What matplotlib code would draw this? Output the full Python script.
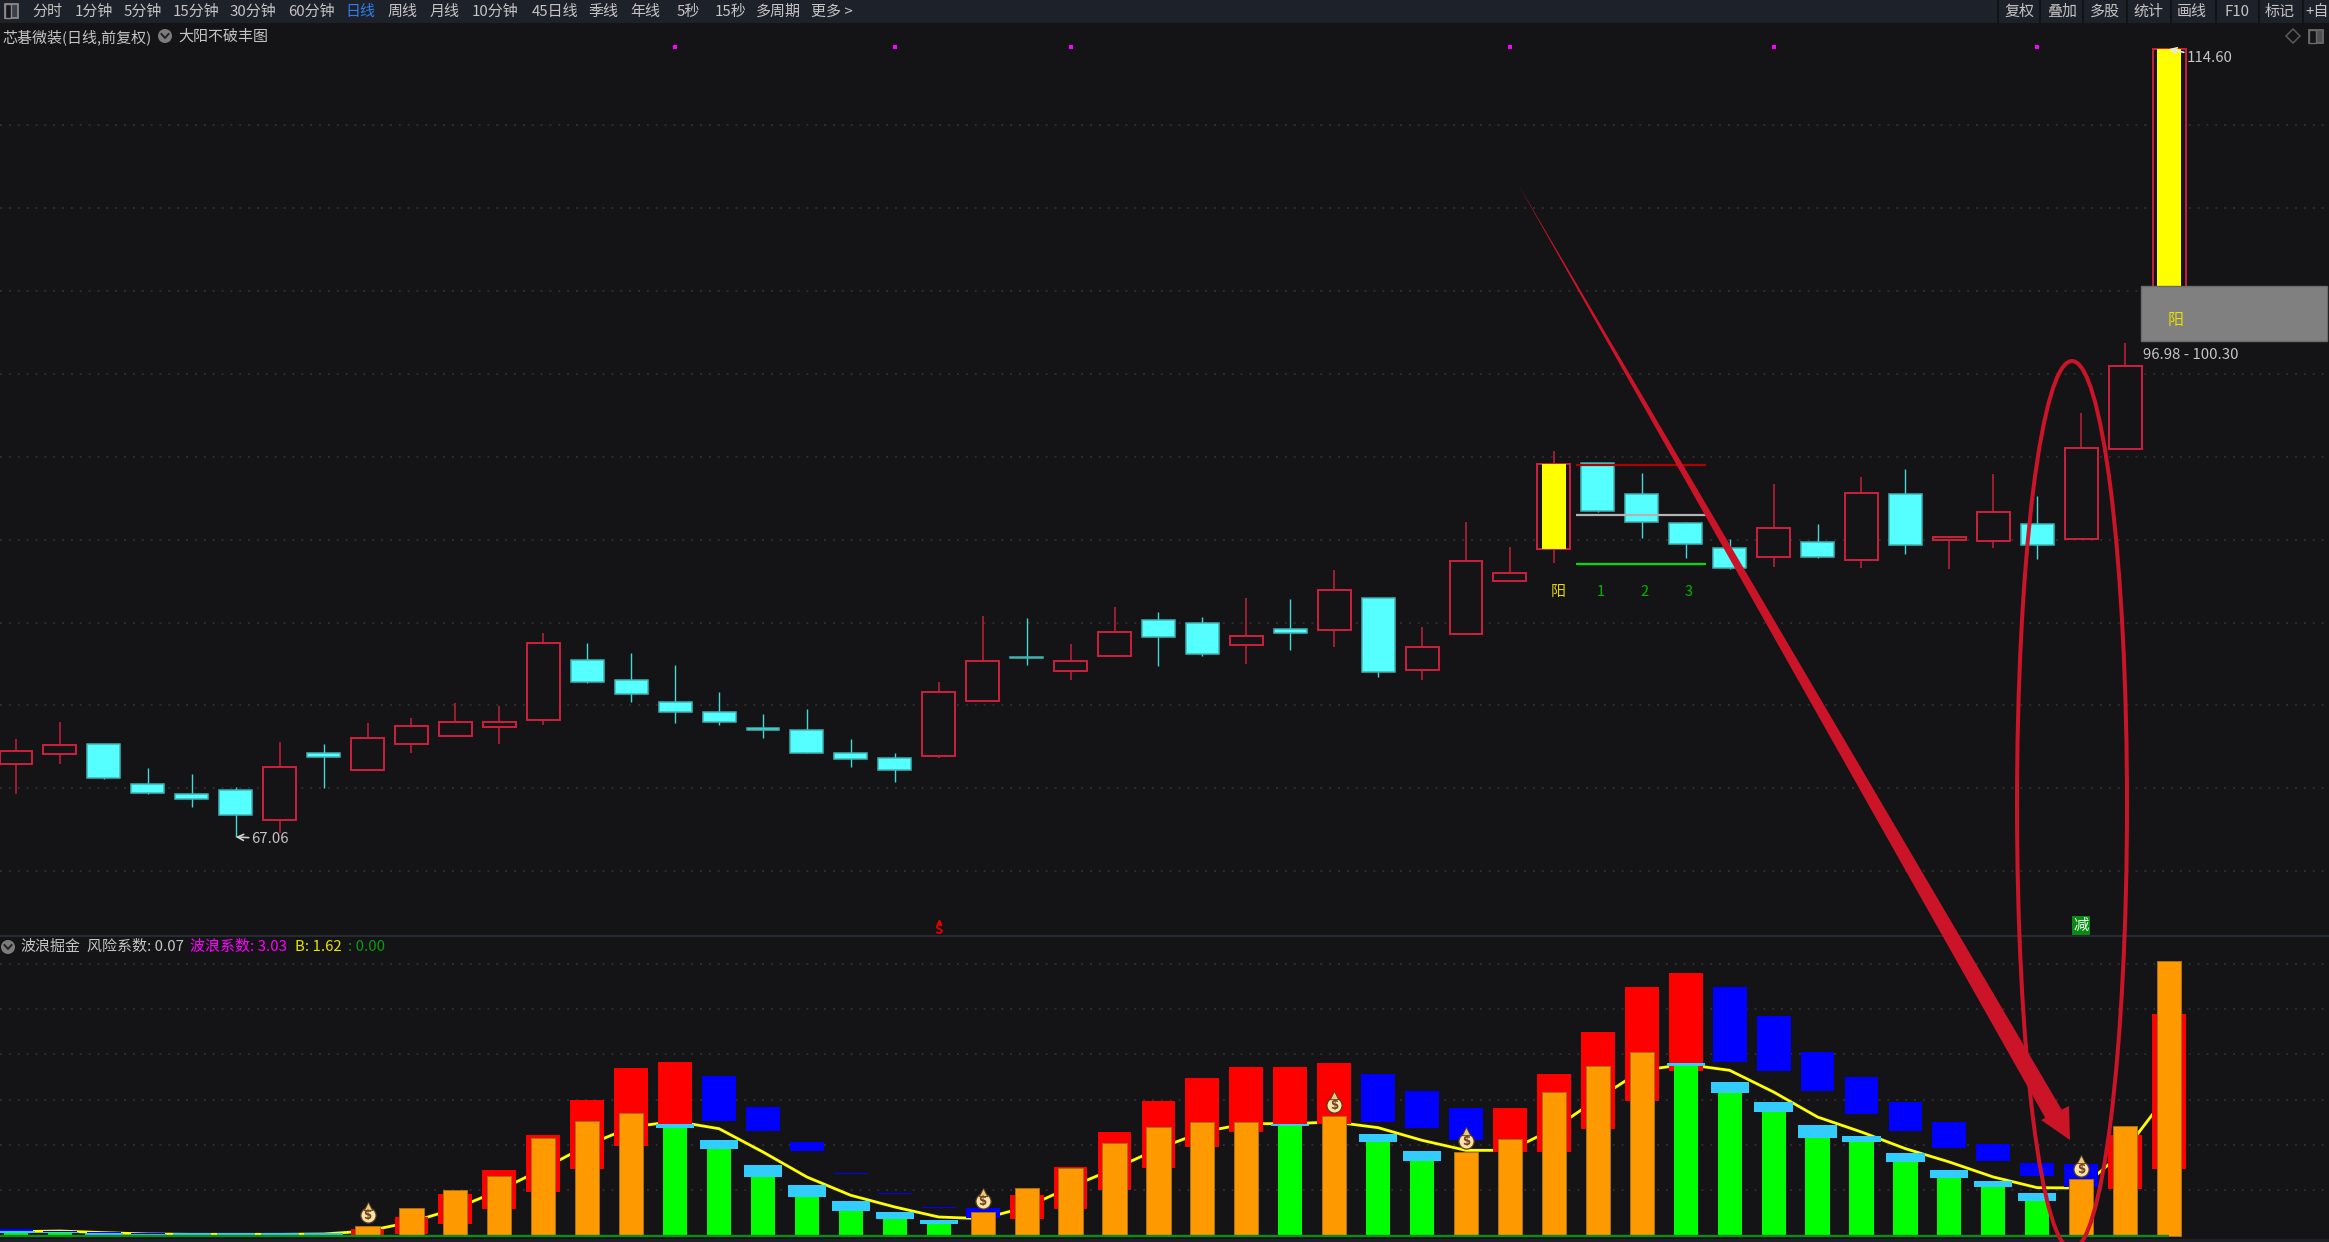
import matplotlib
matplotlib.use("Agg")
import matplotlib.pyplot as plt
from matplotlib.patches import Rectangle, Ellipse, Polygon, Circle

plt.rcParams['font.family'] = ['Noto Sans CJK SC', 'DejaVu Sans']

# ---------- daily candles: open, close, high, low ----------
opens = [71.49,72.07,72.65,70.24,69.64,69.88,68.09,72.13,71.10,72.67,73.13,73.68,74.12,77.72,76.51,75.23,74.62,73.64,73.50,72.13,
         71.83,71.95,75.27,77.93,77.05,77.95,80.13,79.97,78.62,79.58,79.54,81.47,77.13,79.30,82.48,84.44,89.65,87.74,86.01,84.50,
         83.97,84.88,83.77,87.74,84.98,84.90,85.93,85.06,90.49,97.50]
closes = [72.27,72.63,70.64,69.74,69.33,68.37,71.29,71.91,73.01,73.78,74.00,74.00,78.75,76.43,75.67,74.62,74.02,73.50,72.15,71.75,
          71.08,75.81,77.70,77.87,77.69,79.42,79.14,78.08,79.20,79.36,81.98,77.03,78.52,83.73,82.96,89.55,86.75,86.09,84.72,83.31,
          85.68,83.97,87.80,84.66,85.16,86.67,84.66,90.51,95.48,114.60]
highs = [72.95,74.02,72.65,71.22,70.86,70.10,72.79,72.65,73.92,74.24,75.13,74.99,79.37,78.77,78.14,77.42,75.83,74.46,74.76,72.95,
         72.13,76.43,80.41,80.27,78.68,80.93,80.65,80.35,81.47,81.39,83.14,81.47,79.75,86.08,84.57,90.37,89.65,89.02,86.09,85.02,
         88.34,85.95,88.80,89.24,85.16,88.94,87.65,92.64,96.86,114.60]
lows = [69.66,71.47,70.54,69.64,68.89,67.06,67.28,70.02,71.10,72.15,73.13,72.67,73.80,76.35,75.23,73.94,73.80,73.05,72.15,71.31,
        70.40,71.85,75.27,77.41,76.51,77.95,77.39,78.00,77.49,78.32,78.54,76.73,76.51,79.30,82.48,83.61,86.69,85.10,83.91,83.21,
        83.37,83.91,83.31,84.14,83.23,84.52,83.83,85.06,90.49,97.50]
price_grid = [65,70,75,80,85,90,95,100,105,110]
yellow_candles = [35,49]
top_marks = [15,20,24,34,40,46]
level_prices = [89.52,86.49,83.53]
level_colors = ['#b00000','#b4b4b4','#00e000']
level_digits = ['1','2','3']
zone_low, zone_high = 96.98, 100.30

# ---------- wave indicator (arbitrary units) ----------
wave_line = [13,15,10,6,5,5,5,6,15,42,82,137,202,272,327,344,322,252,177,122,87,57,52,87,147,202,262,312,337,337,
             342,325,287,257,257,322,412,497,515,497,432,357,312,262,222,177,145,144,257,430]
inner_top = [10,8,3,1,3,3,3,3,31,83,139,181,294,346,368,324,260,177,117,76,50,35,72,143,204,279,327,343,343,331,
             361,282,226,252,290,433,511,552,510,429,372,294,282,222,174,147,106,170,330,826]
inner_kind = list("GGGGGGGGOOOOOOOGGGGGGGOOOOOOOGOGGOOOOOGGGGGGGGGOOO")[:50]
cap_top = [14,13,8,5,8,8,8,8,0,0,0,0,0,0,0,335,289,214,154,106,72,49,0,0,0,0,0,0,0,335,
           0,307,256,0,0,0,0,0,518,462,402,334,301,248,199,166,128,0,0,0]
outer_top = [21,16,11,9,0,0,0,0,20,57,125,199,304,409,503,522,480,386,282,188,128,87,83,124,207,312,406,473,508,508,
             518,487,435,383,383,485,612,747,788,746,660,552,476,402,342,275,218,215,304,665]
outer_bot = [14,13,8,4,0,0,0,0,0,7,35,80,132,200,270,335,346,316,256,186,126,85,55,50,80,137,204,267,312,335,
             335,343,324,289,252,252,320,406,496,522,496,435,365,316,263,226,181,147,140,200]
outer_kind = list("BBBBBBBBRRRRRRRRBBBBBBBRRRRRRRRBBBRRRRRBBBBBBBBBRR")[:50]
bag_index = [8,22,30,33,47]
bag_value = [62,104,394,285,202]
wave_grid = [138,273,408,547,682,817]

# ---------- toolbar text ----------
tabs = ['分时','1分钟','5分钟','15分钟','30分钟','60分钟','日线','周线','月线','10分钟','45日线','季线','年线','5秒','15秒','多周期','更多 >']
tab_x = [47,94,143,196,253,311,360,403,445,495,555,603,645,688,730,778,832]
tools = ['复权','叠加','多股','统计','画线','F10','标记','+自']
tool_x = [2019,2062,2105,2148,2192,2237,2280,2317]
tool_sep = [1998,2040,2083,2127,2171,2216,2259,2303]

W, H = 2329, 1242
BG = '#141416'
BAR = '#1d2129'
TXT = '#c4c4c4'
RED = '#c8203c'
CYAN = '#55ffff'
CRIM = '#cb1428'
PX = 72/100

fig = plt.figure(figsize=(W/100, H/100), dpi=100, facecolor=BG)
STEP = 43.94
x_lim = (-16/STEP, (W-16)/STEP)

# ---- candle panel ----
ax = fig.add_axes([0, 1-936/H, 1, (936-24)/H], facecolor=BG)
ax.set_xlim(*x_lim)
k = 0.06033
ax.set_ylim(67.06+(837-936)*k, 67.06+(837-24)*k)
ax.axis('off')
for p in price_grid:
    ax.axhline(p, color='#343436', lw=1.1, ls=(0,(1.3,4.5)), zorder=1)
for i,(o,c,h,l) in enumerate(zip(opens,closes,highs,lows)):
    up = c >= o
    col = RED if up else '#45d6d6'
    ax.plot([i,i],[l,h],color=col,lw=1.5*PX if up else 1.4*PX,zorder=2,solid_capstyle='butt')
    lo,hi = min(o,c),max(o,c)
    if up:
        ax.add_patch(Rectangle((i-0.375,lo),0.75,hi-lo,fc=BG,ec=RED,lw=2*PX,zorder=3))
    else:
        ax.add_patch(Rectangle((i-0.375,lo),0.75,hi-lo,fc=CYAN,ec='#3fb4b4',lw=1.5*PX,zorder=3))
    if i in yellow_candles:
        ax.add_patch(Rectangle((i-0.27,lo),0.54,hi-lo,fc='#ffff00',ec='none',zorder=4))
# three-day guide lines
for p,c,d,xx in zip(level_prices,level_colors,level_digits,[36.07,37.07,38.07]):
    ax.plot([35.5,38.46],[p,p],color=c,lw=2.2*PX,zorder=5,solid_capstyle='butt')
    ax.text(xx,81.85,d,color='#00b400',fontsize=10.5,ha='center',va='center',zorder=6)
ax.text(35.1,81.85,'阳',color='#e6d800',fontsize=10.8,ha='center',va='center',zorder=6)
# zone box
ax.add_patch(Rectangle((48.36,zone_low),4.23,zone_high-zone_low,fc='#808080',ec='#6c6c6c',lw=1,zorder=7))
ax.text(49.14,98.2,'阳',color='#e6e000',fontsize=11.5,ha='center',va='center',zorder=8)
ax.text(48.4,zone_low-0.85,f'{zone_low:.2f} - {zone_high:.2f}',color=TXT,fontsize=10.8,ha='left',va='center',zorder=8)
# extremes
ax.annotate('67.06',xy=(5,67.06),xytext=(5.36,66.96),color=TXT,fontsize=10.8,ha='left',va='center',zorder=8,
            arrowprops=dict(arrowstyle='->',color='#d0d0d0',lw=1.2,shrinkA=0,shrinkB=0))
ax.annotate('114.60',xy=(49,114.60),xytext=(49.4,114.05),color=TXT,fontsize=10.8,ha='left',va='center',zorder=8,
            arrowprops=dict(arrowstyle='->',color='#e8e8e8',lw=1.2,shrinkA=0,shrinkB=0))
# top magenta ticks
ax.scatter(top_marks,[0.9748]*len(top_marks),marker='s',s=12,color='#ff00ff',transform=ax.get_xaxis_transform(),zorder=5,lw=0)
# bottom signals
ax.text(21,0.0066,'S',color='#e00000',fontsize=9.5,fontweight='bold',ha='center',va='center',transform=ax.get_xaxis_transform(),zorder=6)
ax.plot([21],[0.0155],marker='^',ms=3.2,color='#e00000',transform=ax.get_xaxis_transform(),zorder=6,lw=0)
ax.text(47,0.0115,'减',color='#e8ffe8',fontsize=11,ha='center',va='center',transform=ax.get_xaxis_transform(),zorder=6,
        bbox=dict(fc='#0a8a14',ec='none',pad=1))

# ---- wave panel ----
bx = fig.add_axes([0, 0, 1, (H-936)/H], facecolor=BG)
bx.set_xlim(*x_lim)
bx.set_ylim(-18, 900)
bx.axis('off')
for g in wave_grid:
    bx.axhline(g, color='#343436', lw=1.1, ls=(0,(1.3,4.5)), zorder=1)
bx.plot(range(len(wave_line)),wave_line,color='#ffff00',lw=2.8*PX,zorder=2)
for i in range(50):
    if outer_top[i] > outer_bot[i]:
        fc = '#ff0000' if outer_kind[i]=='R' else '#0000ff'
        bx.bar(i,outer_top[i]-outer_bot[i],bottom=outer_bot[i],width=0.77,color=fc,lw=0,zorder=3)
    if inner_kind[i]=='O':
        bx.bar(i,inner_top[i],width=0.55,color='#ff9900',edgecolor='#a5701c',lw=0.7,zorder=4)
    else:
        if cap_top[i] > inner_top[i]:
            bx.bar(i,cap_top[i]-inner_top[i],bottom=inner_top[i],width=0.87,color='#33ccff',lw=0,zorder=4)
        bx.bar(i,inner_top[i],width=0.55,color='#00ff00',lw=0,zorder=4)
bx.plot([-0.5,49],[0,0],color='#108a18',lw=2.4*PX,zorder=5,solid_capstyle='butt')
bx.axhspan(-18,-9,color=BAR,zorder=5,lw=0)
# money bags
bx.scatter(bag_index,bag_value,marker='o',s=120,color='#f4e5a6',edgecolors='#5a3a1c',linewidths=0.9,zorder=6)
bx.scatter(bag_index,[v+29 for v in bag_value],marker='^',s=36,color='#e8c87a',edgecolors='#5a3a1c',linewidths=0.6,zorder=6)
for i,v in zip(bag_index,bag_value):
    bx.text(i,v-1,'$',color='#7a3f24',fontsize=8.5,fontweight='bold',ha='center',va='center',zorder=7,family='DejaVu Sans')

# ---- chrome and hand-drawn marks, in pixel space ----
ov = fig.add_axes([0,0,1,1],facecolor='none')
ov.set_xlim(0,W); ov.set_ylim(H,0); ov.axis('off')
ov.add_patch(Rectangle((0,0),W,23,fc=BAR,ec='none'))
ov.add_patch(Rectangle((5,4),13,14,fc='#3a3f48',ec='#8a8a8a',lw=1.3))
ov.add_patch(Rectangle((5,4),6,14,fc='#16181c',ec='#8a8a8a',lw=1))
for t,x in zip(tabs,tab_x):
    ov.text(x,12,t,color='#2f80ed' if t=='日线' else TXT,fontsize=10.8,ha='center',va='center')
for s in tool_sep:
    ov.plot([s,s],[0,23],color='#101216',lw=1.3)
for t,x in zip(tools,tool_x):
    ov.text(x,12,t,color=TXT,fontsize=10.8,ha='center',va='center',clip_on=True)
ov.text(2,37,'芯碁微装(日线,前复权)',color=TXT,fontsize=10.8,ha='left',va='center')
ov.add_patch(Circle((165,36),7,fc='#7c7c7c',ec='none'))
ov.plot([161.5,165,168.5],[34,38,34],color='#222',lw=1.4)
ov.text(178,37,'大阳不破丰图',color=TXT,fontsize=10.8,ha='left',va='center')
ov.add_patch(Polygon([(2293,29),(2300,36),(2293,43),(2286,36)],fc='none',ec='#5a5a5a',lw=1.1))
ov.add_patch(Rectangle((2309,30),14,13,fc='#505050',ec='#6a6a6a',lw=1.3))
ov.add_patch(Rectangle((2309,30),7,13,fc=BG,ec='#6a6a6a',lw=1))
ov.plot([0,W],[936,936],color='#262a32',lw=1.5)
ov.add_patch(Circle((8,947),7,fc='#7c7c7c',ec='none'))
ov.plot([4.5,8,11.5],[945,949,945],color='#222',lw=1.4)
ov.text(20,947,'波浪掘金',color=TXT,fontsize=10.8,ha='left',va='center')
ov.text(87,947,'风险系数: 0.07',color=TXT,fontsize=10.8,ha='left',va='center')
ov.text(190,947,'波浪系数: 3.03',color='#ff00ff',fontsize=10.8,ha='left',va='center')
ov.text(295,947,'B: 1.62',color='#e6e600',fontsize=10.8,ha='left',va='center')
ov.text(348,947,': 0.00',color='#0a9a14',fontsize=10.8,ha='left',va='center')
ov.add_patch(Ellipse((2072,805),110,888,fc='none',ec=CRIM,lw=4*PX,clip_on=True,zorder=20))
ov.add_patch(Polygon([(1518,184),(2063,1112),(2047,1121)],fc=CRIM,ec='none',zorder=21))
ov.add_patch(Polygon([(2070,1140),(2041,1120),(2069,1106)],fc=CRIM,ec='none',zorder=21))

fig.savefig('out.png',dpi=100,facecolor=BG)
